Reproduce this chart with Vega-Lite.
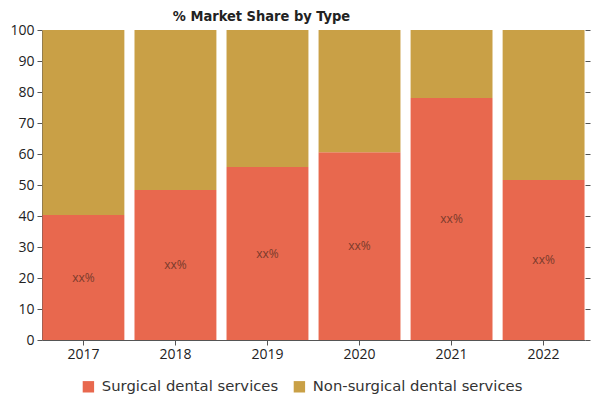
{
  "$schema": "https://vega.github.io/schema/vega-lite/v6.json",
  "width": 543,
  "height": 310,
  "autosize": "none",
  "padding": {"left": 42, "top": 30, "right": 15, "bottom": 60},
  "background": "white",
  "config": {"view": {"stroke": null}},
  "title": {
    "text": "% Market Share by Type",
    "font": "DejaVu Sans Condensed, DejaVu Sans, sans-serif",
    "fontWeight": "bold",
    "fontSize": 14.5,
    "color": "#222222",
    "anchor": "middle",
    "dx": -52,
    "offset": -1
  },
  "data": {
    "values": [
      {"year": "2017", "type": "Surgical dental services", "share": 40.3, "label": "xx%"},
      {"year": "2017", "type": "Non-surgical dental services", "share": 59.7, "label": ""},
      {"year": "2018", "type": "Surgical dental services", "share": 48.4, "label": "xx%"},
      {"year": "2018", "type": "Non-surgical dental services", "share": 51.6, "label": ""},
      {"year": "2019", "type": "Surgical dental services", "share": 55.8, "label": "xx%"},
      {"year": "2019", "type": "Non-surgical dental services", "share": 44.2, "label": ""},
      {"year": "2020", "type": "Surgical dental services", "share": 60.6, "label": "xx%"},
      {"year": "2020", "type": "Non-surgical dental services", "share": 39.4, "label": ""},
      {"year": "2021", "type": "Surgical dental services", "share": 78.1, "label": "xx%"},
      {"year": "2021", "type": "Non-surgical dental services", "share": 21.9, "label": ""},
      {"year": "2022", "type": "Surgical dental services", "share": 51.6, "label": "xx%"},
      {"year": "2022", "type": "Non-surgical dental services", "share": 48.4, "label": ""}
    ]
  },
  "encoding": {
    "x": {
      "field": "year",
      "type": "nominal",
      "scale": {"paddingInner": 0.11, "paddingOuter": 0.005},
      "axis": {
        "title": null,
        "labelAngle": 0,
        "labelFont": "Open Sans",
        "labelFontSize": 14,
        "labelColor": "#222222",
        "domainColor": "#555555",
        "tickColor": "#555555",
        "tickSize": 5,
        "labelPadding": 2
      }
    }
  },
  "layer": [
    {
      "mark": {"type": "bar"},
      "encoding": {
        "y": {
          "field": "share",
          "type": "quantitative",
          "stack": "zero",
          "scale": {"domain": [0, 100], "nice": false},
          "axis": {
            "title": null,
            "values": [0, 10, 20, 30, 40, 50, 60, 70, 80, 90, 100],
            "grid": false,
            "labelFont": "Open Sans",
            "labelFontSize": 14,
            "labelColor": "#222222",
            "domainColor": "#555555",
            "tickColor": "#555555",
            "tickSize": 5,
            "labelPadding": 3
          }
        },
        "color": {
          "field": "type",
          "type": "nominal",
          "scale": {
            "domain": ["Surgical dental services", "Non-surgical dental services"],
            "range": ["#e8684e", "#c9a046"]
          },
          "legend": {
            "title": null,
            "orient": "none",
            "direction": "horizontal",
            "legendX": 39,
            "legendY": 349,
            "symbolType": "square",
            "symbolSize": 130,
            "symbolStrokeWidth": 0,
            "labelFont": "DejaVu Sans",
            "labelFontSize": 14.8,
            "labelColor": "#333333",
            "labelLimit": 400,
            "columnPadding": 13,
            "labelOffset": 6
          }
        },
        "order": {"field": "type", "sort": "descending"}
      }
    },
    {
      "transform": [
        {"filter": "datum.label != ''"},
        {"calculate": "datum.share / 2", "as": "mid"}
      ],
      "mark": {"type": "text", "font": "Open Sans", "fontSize": 12, "color": "#7a3b2c"},
      "encoding": {
        "y": {
          "field": "mid",
          "type": "quantitative",
          "axis": {
            "orient": "right",
            "title": null,
            "labels": false,
            "domain": false,
            "grid": false,
            "values": [0, 10, 20, 30, 40, 50, 60, 70, 80, 90, 100],
            "tickColor": "#555555",
            "tickSize": 5
          }
        },
        "text": {"field": "label"}
      }
    }
  ],
  "resolve": {"axis": {"y": "independent"}}
}
